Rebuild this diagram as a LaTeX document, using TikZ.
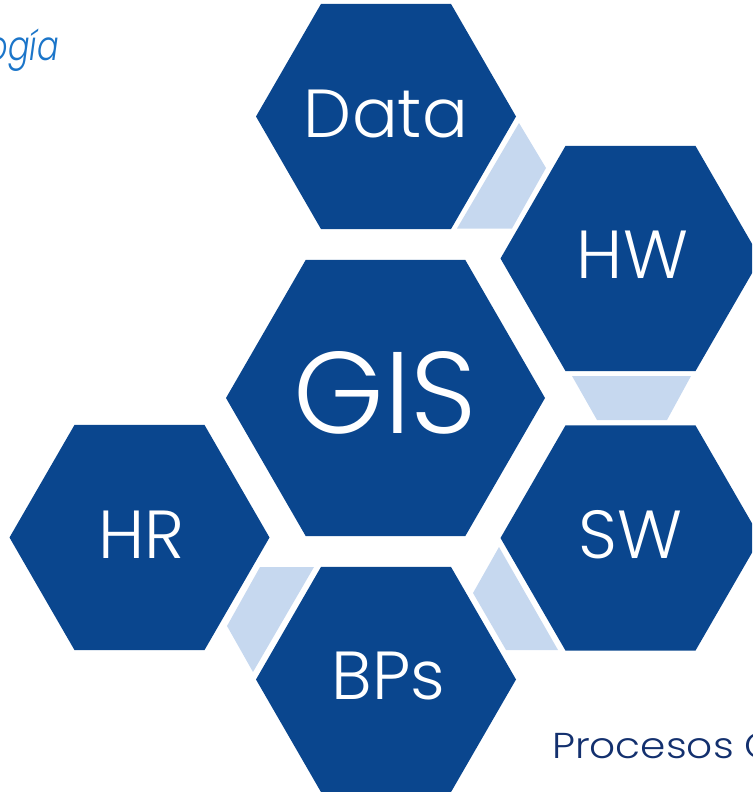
\documentclass[tikz,border=0pt]{standalone}
\usepackage{fontspec}
\setmainfont{Poppins Light}[ItalicFont={Poppins Light Italic}]
\usetikzlibrary{shapes.geometric}
\definecolor{hexblue}{HTML}{0A468E}
\definecolor{linkblue}{HTML}{C6D8EF}
\definecolor{navy}{HTML}{13306E}
\definecolor{titleblue}{HTML}{1B75C9}
\tikzset{
  hex/.style={regular polygon, regular polygon sides=6, fill=hexblue, draw=none,
    inner sep=0pt, outer sep=0pt, minimum size=260pt},
  biglbl/.style={text=white, inner sep=0pt, anchor=base, font=\fontsize{68}{68}\selectfont},
  link/.style={fill=linkblue, draw=none}
}
\begin{document}
\begin{tikzpicture}[x=1pt, y=-1pt]
\useasboundingbox (0,0) rectangle (752,792);
\clip (0,0) rectangle (752,792);
% connectors
\fill[link] (519,123) -- (546,168) -- (512,228.5) -- (457,228.5) -- cycle;
\fill[link] (572,376) -- (691,376) -- (667,420) -- (597,420) -- cycle;
\fill[link] (499,547) -- (558,650) -- (506,650) -- (473,593) -- cycle;
\fill[link] (260,567) -- (314,567) -- (253,672) -- (227,626) -- cycle;
% hexagons
\node[hex] (data) at (386,116.5) {};
\node[hex] (hw) at (630.5,258.5) {};
\node[hex, minimum size=319pt] (gis) at (385.5,398) {};
\node[hex] (hr) at (139.5,537.5) {};
\node[hex] (sw) at (630.5,538) {};
\node[hex] (bps) at (386,679.5) {};
% labels
\node[biglbl] (datat) at ([yshift=-20.5pt]data.center) {Data};
\node[biglbl] (hwt) at ([xshift=2pt,yshift=-19.5pt]hw.center) {HW};
\node[biglbl, font=\fontsize{116}{116}\selectfont] (gist) at ([yshift=-35pt]gis.center) {GIS};
\node[biglbl] (hrt) at ([xshift=2pt,yshift=-20.5pt]hr.center) {HR};
\node[biglbl] (swt) at ([yshift=-20pt]sw.center) {SW};
\node[biglbl] (bpst) at ([xshift=2.5pt,yshift=-19.5pt]bps.center) {BPs};
% side texts
\node[anchor=base east, inner sep=0pt, text=titleblue, font=\itshape\fontsize{41}{41}\selectfont] (title) at (59,60) {\scalebox{0.78}[1]{ogía}};
\node[anchor=base west, inner sep=0pt, text=navy, font=\fontsize{36}{36}\selectfont] (proc) at (552,758) {\scalebox{1.13}[1]{Procesos C}};
\end{tikzpicture}
\end{document}
